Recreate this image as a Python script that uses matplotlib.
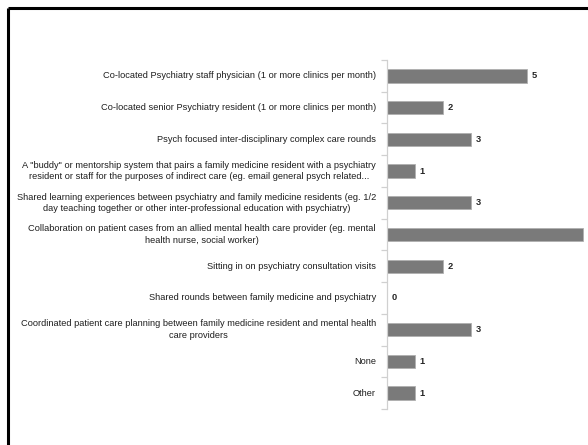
import matplotlib
matplotlib.use("Agg")
import matplotlib.pyplot as plt
from matplotlib.lines import Line2D

categories = [
    "Co-located Psychiatry staff physician (1 or more clinics per month)",
    "Co-located senior Psychiatry resident (1 or more clinics per month)",
    "Psych focused inter-disciplinary complex care rounds",
    "A \"buddy\" or mentorship system that pairs a family medicine resident with a psychiatry\nresident or staff for the purposes of indirect care (eg. email general psych related...",
    "Shared learning experiences between psychiatry and family medicine residents (eg. 1/2\nday teaching together or other inter-professional education with psychiatry)",
    "Collaboration on patient cases from an allied mental health care provider (eg. mental\nhealth nurse, social worker)",
    "Sitting in on psychiatry consultation visits",
    "Shared rounds between family medicine and psychiatry",
    "Coordinated patient care planning between family medicine resident and mental health\ncare providers",
    "None",
    "Other",
]
values = [5, 2, 3, 1, 3, 7, 2, 0, 3, 1, 1]

fam = ["Liberation Sans", "DejaVu Sans"]

W, H = 588, 445
fig = plt.figure(figsize=(W / 100, H / 100), dpi=100)
fig.patch.set_facecolor("white")

# outer frame (cropped on right and bottom)
fig.add_artist(Line2D([8 / W, 8 / W], [0, 1 - 8 / H], transform=fig.transFigure,
                      color="black", lw=2.2, solid_capstyle="butt"))
fig.add_artist(Line2D([8 / W, 1], [1 - 8 / H, 1 - 8 / H], transform=fig.transFigure,
                      color="black", lw=2.2, solid_capstyle="butt"))

left, right, top, bottom = 387, 588, 60, 409
ax = fig.add_axes([left / W, 1 - bottom / H, (right - left) / W, (bottom - top) / H])
n = len(categories)
ypos = list(range(n))
ax.barh(ypos, values, height=0.42, color="#7a7a7a", edgecolor="#b0b0b0", linewidth=0.6)
ax.set_ylim(n - 0.5, -0.5)
ax.set_xlim(0, (right - left) / 28.0)

for s in ["top", "right", "bottom"]:
    ax.spines[s].set_visible(False)
ax.spines["left"].set_color("#d0d0d0")
ax.spines["left"].set_linewidth(0.9)
ax.set_xticks([])
ax.set_yticks([i - 0.5 for i in range(n + 1)])
ax.set_yticklabels([])
ax.tick_params(axis="y", length=4, color="#d0d0d0", width=0.9, direction="out")

for i, (c, v) in enumerate(zip(categories, values)):
    ax.annotate(c, xy=(0, i), xycoords="data", xytext=(-8, 0), textcoords="offset points",
                ha="right", va="center", multialignment="center", fontsize=6.65,
                family=fam, color="#1f1f1f", annotation_clip=False, linespacing=1.35)
    ax.annotate(str(v), xy=(v, i), xycoords="data", xytext=(3.5, 0), textcoords="offset points",
                ha="left", va="center", fontsize=6.65, family=fam, color="#262626",
                fontweight="bold", annotation_clip=False)

fig.savefig("out.png", dpi=100)
